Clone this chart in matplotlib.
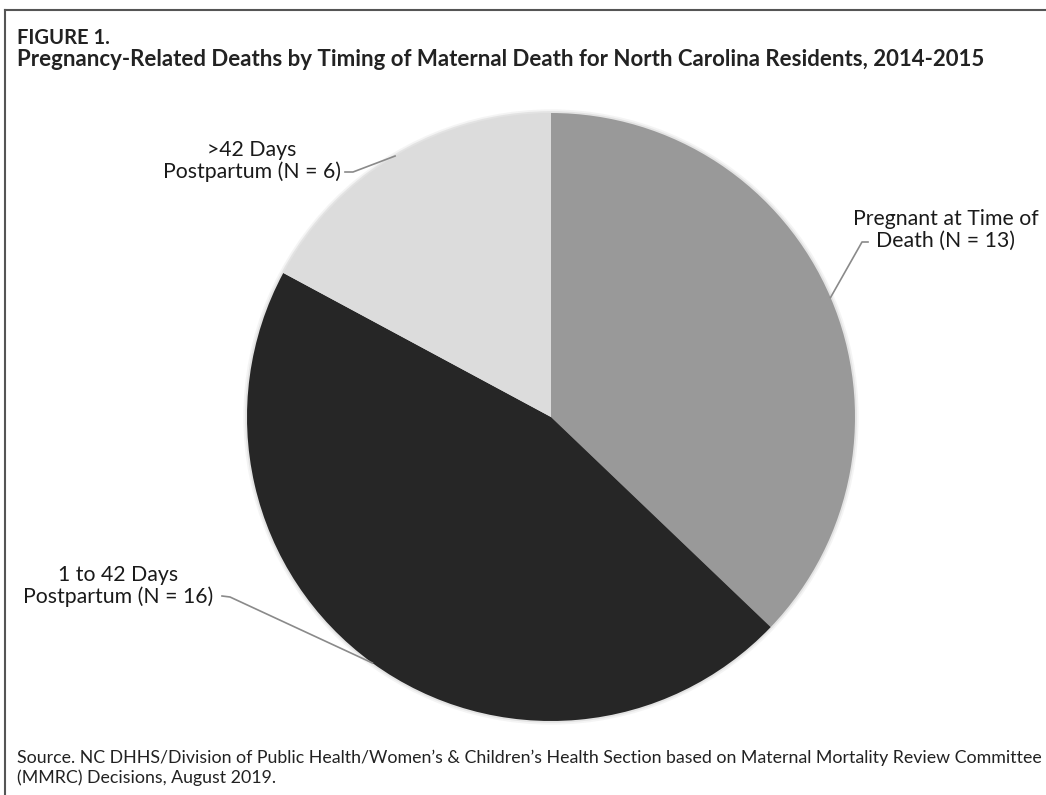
import matplotlib.pyplot as plt
from matplotlib.lines import Line2D
from matplotlib.patches import Circle
import numpy as np

plt.rcParams['font.family'] = ['Lato', 'DejaVu Sans']

# data
labels = ['Pregnant at Time of\nDeath (N = 13)',
          '1 to 42 Days\nPostpartum (N = 16)',
          '>42 Days\nPostpartum (N = 6)']
deaths = [13, 16, 6]
colors = ['#999999', '#262626', '#dcdcdc']

fig_label = 'FIGURE 1.'
title = 'Pregnancy-Related Deaths by Timing of Maternal Death for North Carolina Residents, 2014-2015'
source = ('Source. NC DHHS/Division of Public Health/Women\u2019s & Children\u2019s Health Section '
          'based on Maternal Mortality Review Committee\n(MMRC) Decisions, August 2019.')

W, H = 1046, 795
fig = plt.figure(figsize=(W / 100, H / 100), dpi=100)


def fx(x):
    return x / W


def fy(y):
    return 1 - y / H


# pie placement (pixels)
cx, cy, r = 551, 417, 304
pad = 1.02
ax = fig.add_axes([fx(cx - r * pad), fy(cy + r * pad), 2 * r * pad / W, 2 * r * pad / H])
# soft halo around the pie
for k, a in [(1.012, 0.10), (1.006, 0.18)]:
    ax.add_patch(Circle((0, 0), k, color='#999999', alpha=a, lw=0, zorder=0))
wedges, _ = ax.pie(deaths, colors=colors, startangle=90, counterclock=False,
                   radius=1, wedgeprops=dict(linewidth=0))
ax.set_xlim(-pad, pad)
ax.set_ylim(-pad, pad)
ax.set_aspect('equal')
ax.axis('off')

# label positions (pixel centers) and leader line start points
label_pos = [(946, 230), (118, 586), (252, 161)]
leader_start = [[(868, 242), (862, 242)],
                [(222, 596), (230, 597)],
                [(345, 172), (353, 172)]]

for w, lab, (tx, ty), pts in zip(wedges, labels, label_pos, leader_start):
    fig.text(fx(tx), fy(ty), lab, ha='center', va='center', fontsize=15.3,
             color='#1a1a1a', linespacing=1.08)
    mid = np.deg2rad((w.theta1 + w.theta2) / 2)
    ex = cx + r * np.cos(mid)
    ey = cy - r * np.sin(mid)
    xs = [p[0] for p in pts] + [ex]
    ys = [p[1] for p in pts] + [ey]
    fig.add_artist(Line2D([fx(x) for x in xs], [fy(y) for y in ys],
                          color='#8a8a8a', lw=1.2, zorder=5))

# frame: top and left rules
fig.add_artist(Line2D([fx(5), fx(W)], [fy(10), fy(10)], color='#555555', lw=1.5))
fig.add_artist(Line2D([fx(5), fx(5)], [fy(10), fy(H)], color='#555555', lw=1.5))

fig.text(fx(17), fy(38), fig_label, ha='left', va='center', fontsize=14.5,
         fontweight='bold', color='#222222')
fig.text(fx(17), fy(60), title, ha='left', va='center', fontsize=16,
         fontweight='bold', color='#222222')
fig.text(fx(17), fy(768), source, ha='left', va='center', fontsize=12.8,
         color='#222222', linespacing=1.3)

fig.savefig('out.png', dpi=100, facecolor='white')
